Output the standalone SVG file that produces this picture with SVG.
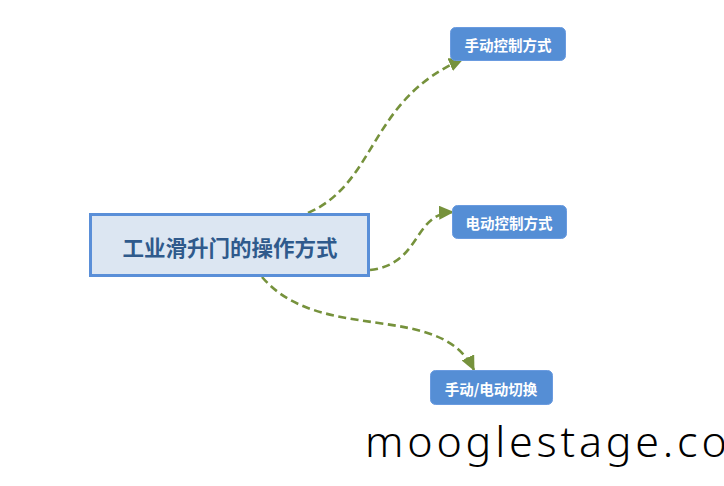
<svg xmlns="http://www.w3.org/2000/svg" width="724" height="486" viewBox="0 0 724 486">
<style>
.conn{fill:none;stroke:#76923c;stroke-width:2.6;stroke-dasharray:8,4.5}
.sub{fill:#558ed5;stroke:#6a9be0;stroke-width:1}
.subt{fill:#ffffff;font-family:"Noto Sans CJK SC","Noto Sans",sans-serif;font-size:14.5px;font-weight:bold;text-anchor:middle;dominant-baseline:central}
.maint{fill:#2f5a8c;font-family:"Noto Sans CJK SC","Noto Sans",sans-serif;font-size:21.5px;font-weight:bold;text-anchor:middle;dominant-baseline:central}
</style>
<defs>
<marker id="arr" markerUnits="userSpaceOnUse" markerWidth="16" markerHeight="14" refX="14" refY="7" orient="auto">
<path d="M0,0 L15,7 L0,14 z" fill="#76923c"/>
</marker>
</defs>
<rect width="724" height="486" fill="#ffffff"/>
<g id="connectors">
<path class="conn" marker-end="url(#arr)" d="M308,213 C378,182 368,100 463,59"/>
<path class="conn" marker-end="url(#arr)" d="M370,270 C422,264 412,214 453,212"/>
<path class="conn" marker-end="url(#arr)" d="M262,277 C320,345 440,300 474,370"/>
</g>
<g id="main">
<rect x="90.5" y="214.5" width="278" height="61" fill="#dce6f2" stroke="#5a8fd8" stroke-width="3"/>
<text class="maint" x="230" y="246">工业滑升门的操作方式</text>
</g>
<g id="n1">
<rect class="sub" x="450.5" y="27.5" width="115" height="33" rx="5"/>
<text class="subt" x="508" y="44">手动控制方式</text>
</g>
<g id="n2">
<rect class="sub" x="452.5" y="205.5" width="114" height="33" rx="5"/>
<text class="subt" x="509" y="222">电动控制方式</text>
</g>
<g id="n3">
<rect class="sub" x="430.5" y="370.5" width="122" height="34" rx="5"/>
<text class="subt" x="491" y="388">手动/电动切换</text>
</g>
<text x="365" y="457" font-family="Noto Sans,sans-serif" font-size="43" font-weight="300" fill="#000000" letter-spacing="3.8">mooglestage.co</text>
</svg>
